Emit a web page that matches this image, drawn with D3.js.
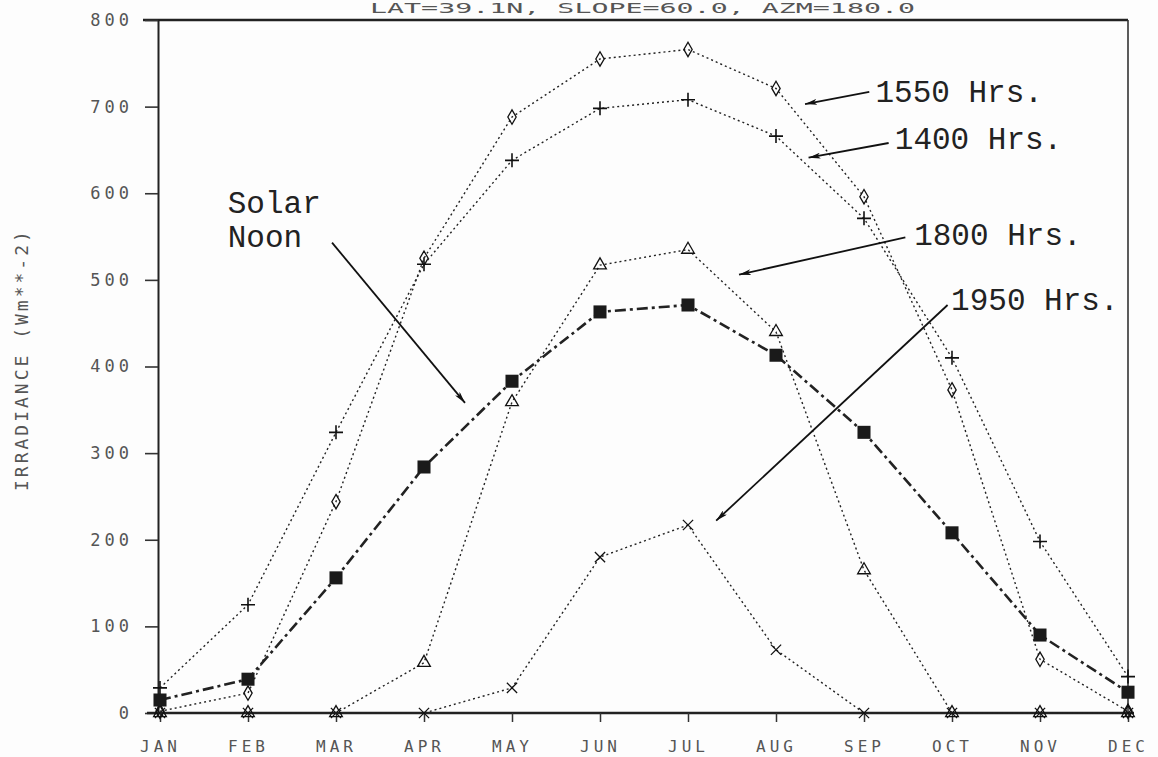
<!DOCTYPE html>
<html>
<head>
<meta charset="utf-8">
<script src="https://cdn.jsdelivr.net/npm/d3@7"></script>
<style>
  html, body { margin: 0; padding: 0; background: #fdfdfd; }
  svg { display: block; }
  .dot { font-family: "DejaVu Sans Mono", monospace; fill: #555; }
  .type { font-family: "Liberation Mono", "Courier New", monospace; fill: #222; }
</style>
</head>
<body>
<svg id="chart" width="1158" height="757"></svg>
<script>
// Monthly irradiance (W m^-2) on the tilted surface at fixed local times
const months = ["JAN", "FEB", "MAR", "APR", "MAY", "JUN", "JUL", "AUG", "SEP", "OCT", "NOV", "DEC"];
const solarNoon = [15, 39, 156, 284, 383, 463, 471, 413, 324, 208, 90, 24];
const hrs1400   = [29, 125, 324, 518, 638, 698, 708, 666, 571, 410, 198, 42];
const hrs1550   = [2, 23, 244, 525, 688, 755, 766, 721, 596, 373, 62, 2];
const hrs1800   = [0, 0, 0, 58, 359, 517, 535, 440, 165, 0, 0, 0];
const hrs1950   = [0, 0, 0, 0, 29, 180, 217, 73, 0, 0, 0, 0];
const yTicks    = [0, 100, 200, 300, 400, 500, 600, 700, 800];

const titleText = "LAT=39.1N, SLOPE=60.0, AZM=180.0";
const yTitle = "IRRADIANCE (Wm**-2)";

// Callout labels: text anchor and arrow from/to, in (month index, value)
const callouts = [
  { lines: ["1550 Hrs."], at: [8.13, 705], from: [8.06, 717], to: [7.33, 703] },
  { lines: ["1400 Hrs."], at: [8.35, 651], from: [8.28, 658], to: [7.37, 641] },
  { lines: ["1800 Hrs."], at: [8.57, 540], from: [8.47, 549], to: [6.58, 506] },
  { lines: ["1950 Hrs."], at: [8.99, 465], from: [8.95, 471], to: [6.32, 222] },
  { lines: ["Solar", "Noon"], at: [0.77, 577], from: [1.955, 543], to: [3.466, 358] }
];

const svg = d3.select("#chart");
const plotLeft = 160, plotRight = 1128, plotTop = 20, plotBottom = 713;

const x = d3.scalePoint().domain(months).range([plotLeft, plotRight]);
const xi = d3.scaleLinear().domain([0, months.length - 1]).range([plotLeft, plotRight]);
const y = d3.scaleLinear().domain([0, 800]).range([plotBottom, plotTop]);

// Title squeezed into the strip above the frame
svg.append("text").attr("class", "dot")
  .attr("x", 370).attr("y", 13)
  .attr("font-size", 14)
  .attr("textLength", 545).attr("lengthAdjust", "spacingAndGlyphs")
  .text(titleText);

// Frame
svg.append("line").attr("x1", 143).attr("x2", plotRight).attr("y1", plotTop).attr("y2", plotTop)
  .attr("stroke", "#222").attr("stroke-width", 2.4);
svg.append("line").attr("x1", plotRight).attr("x2", plotRight).attr("y1", plotTop).attr("y2", plotBottom)
  .attr("stroke", "#333").attr("stroke-width", 1.6);

// Y axis
const yAxis = svg.append("g").attr("transform", `translate(${plotLeft - 2},0)`)
  .call(d3.axisLeft(y).tickValues(yTicks).tickSize(13).tickSizeOuter(0).tickPadding(12));
yAxis.select(".domain").attr("stroke", "#222").attr("stroke-width", 2);
yAxis.selectAll(".tick line").attr("stroke", "#333").attr("stroke-width", 1.6);
yAxis.selectAll(".tick text").attr("class", "dot")
  .attr("font-size", 17).attr("letter-spacing", 4).attr("fill", "#555");

// X axis
const xAxis = svg.append("g").attr("transform", `translate(0,${plotBottom})`)
  .call(d3.axisBottom(x).tickSize(9).tickSizeOuter(0).tickPadding(19));
xAxis.select(".domain").attr("stroke", "#222").attr("stroke-width", 2.4)
  .attr("d", `M${147},0H${plotRight + 6}`);
xAxis.selectAll(".tick line").attr("stroke", "#333").attr("stroke-width", 1.5);
xAxis.selectAll(".tick text").attr("class", "dot")
  .attr("font-size", 16).attr("letter-spacing", 4).attr("fill", "#555");

// Y axis title
svg.append("text").attr("class", "dot")
  .attr("transform", `translate(28,${y(408)}) rotate(-90)`)
  .attr("text-anchor", "middle")
  .attr("font-size", 18).attr("letter-spacing", 3)
  .text(yTitle);

// Series
const series = [
  { values: hrs1950, symbol: d3.symbolTimes, size: 70, fill: "none", width: 1.3, dash: "2,3", lw: 1.4 },
  { values: hrs1800, symbol: d3.symbolTriangle, size: 70, fill: "none", width: 1.3, dash: "2,3", lw: 1.4 },
  { values: hrs1550, symbol: d3.symbolDiamond, size: 60, fill: "none", width: 1.3, dash: "2,3", lw: 1.4 },
  { values: hrs1400, symbol: d3.symbolCross, size: 0, fill: "none", width: 1.3, dash: "2,3", lw: 1.4, plus: true },
  { values: solarNoon, symbol: d3.symbolSquare, size: 170, fill: "#1a1a1a", width: 0, dash: "11,4,3,4", lw: 2.6 }
];

const line = d3.line().x((d, i) => x(months[i])).y(d => y(d));

series.forEach(s => {
  svg.append("path").datum(s.values)
    .attr("d", line)
    .attr("fill", "none")
    .attr("stroke", "#222")
    .attr("stroke-width", s.lw)
    .attr("stroke-dasharray", s.dash);

  const g = svg.append("g");
  s.values.forEach((v, i) => {
    const px = x(months[i]), py = y(v);
    if (s.plus) {
      g.append("path")
        .attr("d", `M${px - 7},${py}H${px + 7}M${px},${py - 7}V${py + 7}`)
        .attr("stroke", "#111").attr("stroke-width", 1.6);
    } else {
      g.append("path")
        .attr("transform", `translate(${px},${py})`)
        .attr("d", d3.symbol().type(s.symbol).size(s.size)())
        .attr("fill", s.fill)
        .attr("stroke", s.fill === "none" ? "#111" : "none")
        .attr("stroke-width", s.width);
    }
  });
});

// Arrowhead
svg.append("defs").append("marker")
  .attr("id", "head")
  .attr("viewBox", "0 0 12 6")
  .attr("refX", 12).attr("refY", 3)
  .attr("markerWidth", 12).attr("markerHeight", 6)
  .attr("markerUnits", "userSpaceOnUse")
  .attr("orient", "auto")
  .append("path").attr("d", "M0,0L12,3L0,6L3,3Z").attr("fill", "#111");

// Callouts
callouts.forEach(c => {
  svg.append("line")
    .attr("x1", xi(c.from[0])).attr("y1", y(c.from[1]))
    .attr("x2", xi(c.to[0])).attr("y2", y(c.to[1]))
    .attr("stroke", "#111").attr("stroke-width", 1.8)
    .attr("marker-end", "url(#head)");
  const t = svg.append("text").attr("class", "type")
    .attr("x", xi(c.at[0])).attr("y", y(c.at[1]))
    .attr("font-size", 31);
  c.lines.forEach((ln, k) => {
    t.append("tspan").attr("x", xi(c.at[0])).attr("dy", k === 0 ? 0 : 34).text(ln);
  });
});
</script>
</body>
</html>
